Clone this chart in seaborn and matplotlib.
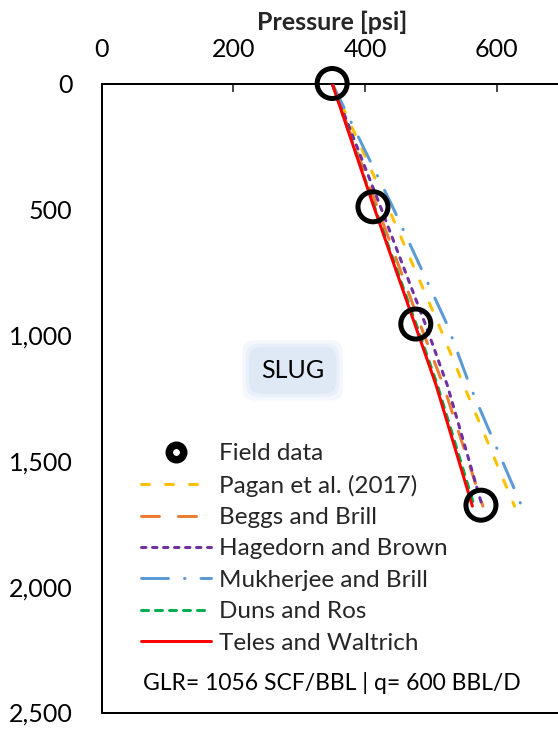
import matplotlib
matplotlib.use("Agg")
import matplotlib.pyplot as plt
import seaborn as sns
import pandas as pd
from matplotlib.lines import Line2D
from matplotlib.ticker import FuncFormatter

sns.set_style("white")
plt.rcParams['font.family'] = ['Lato', 'DejaVu Sans']
plt.rcParams['lines.scale_dashes'] = False

# ---------------- data ----------------
field_pressure = [350, 412, 477, 576]
field_depth = [0, 490, 956, 1676]

model_depth = [0, 480, 960, 1200, 1680]
pagan = [350, 433, 512, 550, 627]
beggs_brill = [350, 417, 484, 519, 579]
hagedorn_brown = [350, 422, 492, 525, 578]
mukherjee_brill = [350, 440, 525, 559, 638]
duns_ros = [350, 413, 478, 510, 566]
teles_waltrich = [350, 412, 476, 508, 563]

labels = ["Field data", "Pagan et al. (2017)", "Beggs and Brill", "Hagedorn and Brown",
          "Mukherjee and Brill", "Duns and Ros", "Teles and Waltrich"]
x_ticks = [0, 200, 400, 600]
y_ticks = [0, 500, 1000, 1500, 2000, 2500]

# ---------------- styles ----------------
PX = 0.72  # px -> pt at dpi 100
lw = 3 * PX
styles = {
    "Pagan et al. (2017)": dict(color="#FFC000", ls=(0, (8 * PX, 16 * PX)), cap="round"),
    "Beggs and Brill": dict(color="#ED7D31", ls=(0, (18 * PX, 19 * PX)), cap="round"),
    "Hagedorn and Brown": dict(color="#7030A0", ls=(0, (4.5 * PX, 6.5 * PX)), cap="round"),
    "Mukherjee and Brill": dict(color="#5B9BD5", ls=(0, (27 * PX, 16 * PX, 0.5 * PX, 16 * PX)), cap="round"),
    "Duns and Ros": dict(color="#00B050", ls=(0, (7 * PX, 7 * PX)), cap="round"),
    "Teles and Waltrich": dict(color="#FF0000", ls="-", cap="butt"),
}
series = {
    "Pagan et al. (2017)": pagan,
    "Beggs and Brill": beggs_brill,
    "Hagedorn and Brown": hagedorn_brown,
    "Mukherjee and Brill": mukherjee_brill,
    "Duns and Ros": duns_ros,
    "Teles and Waltrich": teles_waltrich,
}

fig = plt.figure(figsize=(5.58, 7.31), dpi=100)
ax = fig.add_axes([101.7 / 558, 1 - 712.5 / 731, (562.6 - 101.7) / 558, (712.5 - 83.5) / 731])

for name, vals in series.items():
    st = styles[name]
    df = pd.DataFrame({"p": vals, "d": model_depth})
    sns.lineplot(data=df, x="p", y="d", sort=False, estimator=None, ax=ax,
                 color=st["color"], linewidth=lw, linestyle=st["ls"],
                 dash_capstyle=st["cap"], zorder=3)

fdf = pd.DataFrame({"p": field_pressure, "d": field_depth})
sns.scatterplot(data=fdf, x="p", y="d", ax=ax, marker="o", s=(30 * PX) ** 2,
                facecolor="none", edgecolor="black", linewidth=5 * PX,
                zorder=5, clip_on=False)

FS = 18
ax.set_xlim(0, 700)
ax.set_ylim(2500, 0)
ax.xaxis.tick_top()
ax.xaxis.set_label_position('top')
ax.set_xticks(x_ticks)
ax.set_yticks(y_ticks)
ax.yaxis.set_major_formatter(FuncFormatter(lambda v, p: f"{int(v):,}"))
ax.tick_params(axis='x', direction='in', length=8 * PX, width=1.2, pad=16, labelsize=FS,
               top=True, bottom=False, labelcolor='black')
ax.tick_params(axis='y', direction='in', length=8 * PX, width=1.2, pad=21, labelsize=FS,
               labelcolor='black')
ax.set_xlabel("Pressure [psi]", fontsize=FS, fontweight='bold', labelpad=6)
ax.set_ylabel("")

for s in ['left', 'top', 'bottom']:
    ax.spines[s].set_visible(True)
    ax.spines[s].set_color('black')
    ax.spines[s].set_linewidth(2 * PX)
ax.spines['right'].set_visible(False)

# legend
handles = [Line2D([], [], marker='o', ls='none', markersize=14.5 * PX,
                  markerfacecolor='none', markeredgecolor='black', markeredgewidth=7.5 * PX)]
for name in labels[1:]:
    st = styles[name]
    handles.append(Line2D([], [], color=st["color"], lw=lw, ls=st["ls"],
                          dash_capstyle=st["cap"]))
leg = ax.legend(handles, labels, loc='upper left',
                bbox_to_anchor=(141 / 558, 1 - 443 / 731), bbox_transform=fig.transFigure,
                frameon=False, fontsize=17.5, handlelength=2.9, handletextpad=0.3,
                labelspacing=0.43, borderpad=0, borderaxespad=0)

# SLUG label with soft blue background glow
for pad, col in [(0.75, '#f4f7fc'), (0.6, '#e9f0f9'), (0.48, '#dfe9f5')]:
    ax.text(290, 1140, "SLUG", fontsize=FS, ha='center', va='center', zorder=2,
            color='black',
            bbox=dict(boxstyle=f'round,pad={pad},rounding_size=0.5', facecolor=col,
                      edgecolor='none'))

fig.text(143 / 558, 1 - 683 / 731, "GLR= 1056 SCF/BBL | q= 600 BBL/D",
         fontsize=16.5, ha='left', va='center', color='black')

fig.savefig("out.png", dpi=100)
